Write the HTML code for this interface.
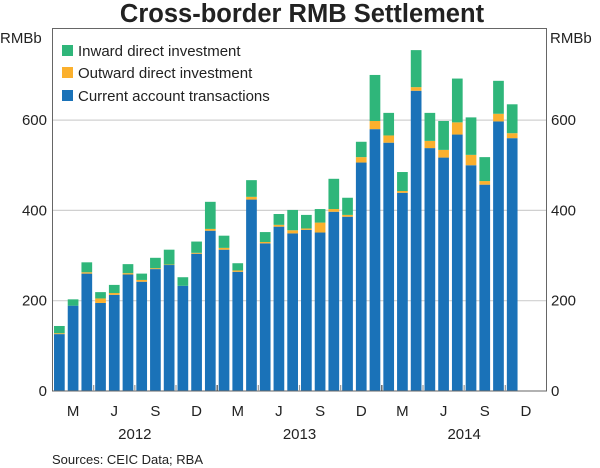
<!DOCTYPE html>
<html><head><meta charset="utf-8"><style>
body{margin:0;background:#fff;}
svg{display:block;font-family:"Liberation Sans",Arial,sans-serif;}
</style></head><body>
<svg id="chart" width="600" height="468" viewBox="0 0 600 468">
<text x="302" y="22" text-anchor="middle" font-size="25.5" font-weight="bold" fill="#222">Cross-border RMB Settlement</text>
<g id="grid"></g>
<g id="bars"></g>
<rect x="52.5" y="28.5" width="494" height="362.5" fill="none" stroke="#666" stroke-width="1"/>
<g id="axes"></g>
<text x="0" y="43" font-size="15" fill="#222">RMBb</text>
<text x="550" y="43" font-size="15" fill="#222">RMBb</text>
<g>
<rect x="62" y="45" width="11" height="11" fill="#2fb67a"/>
<text x="78" y="56" font-size="15" fill="#222">Inward direct investment</text>
<rect x="62" y="67" width="11" height="11" fill="#fbb02d"/>
<text x="78" y="78" font-size="15" fill="#222">Outward direct investment</text>
<rect x="62" y="90" width="11" height="11" fill="#1a72b8"/>
<text x="78" y="101" font-size="15" fill="#222">Current account transactions</text>
</g>
<text x="52" y="464" font-size="13" fill="#222">Sources:  CEIC Data; RBA</text>
</svg>
<script>
const months = ["Jan12","Feb12","Mar12","Apr12","May12","Jun12","Jul12","Aug12","Sep12","Oct12","Nov12","Dec12","Jan13","Feb13","Mar13","Apr13","May13","Jun13","Jul13","Aug13","Sep13","Oct13","Nov13","Dec13","Jan14","Feb14","Mar14","Apr14","May14","Jun14","Jul14","Aug14","Sep14","Oct14"];
const current = [126,189,260,195,213,258,242,270,279,233,304,355,313,264,424,327,364,349,357,351,397,386,506,580,550,439,665,538,517,568,500,457,597,560];
const outward = [2,0,3,10,4,3,4,2,1,0,2,4,4,3,6,3,4,7,3,22,6,4,12,18,16,4,8,16,17,27,23,8,17,11];
const inward = [16,14,22,14,18,20,14,23,33,19,25,60,27,16,37,22,24,45,30,30,67,38,34,102,50,42,82,62,64,97,83,53,73,64];
const yTicks = [0,200,400,600];
const qLabels = ["M","J","S","D","M","J","S","D","M","J","S","D"];
const years = ["2012","2013","2014"];
const NS="http://www.w3.org/2000/svg";
const X0=52.5, X1=546.5, Y0=391, SLOTS=36;
const pitch=(X1-X0)/SLOTS;
function yS(v){return Y0 - v*(90.3/200);}
function xS(i){return X0 + pitch*(i+0.5);}
function mk(t,a,p){const e=document.createElementNS(NS,t);for(const k in a)e.setAttribute(k,a[k]);p.appendChild(e);return e;}
const grid=document.getElementById('grid'), bars=document.getElementById('bars'), axes=document.getElementById('axes');
yTicks.forEach(v=>{
  if(v>0){const l=mk('line',{x1:X0,x2:X1,y1:yS(v),y2:yS(v),stroke:'#d0d0d0','stroke-width':1.2},grid);
  
  }
  const t1=mk('text',{x:47,y:yS(v)+5,'text-anchor':'end','font-size':15,fill:'#222'},axes);t1.textContent=v;
  
  
  const t2=mk('text',{x:551,y:yS(v)+5,'font-size':15,fill:'#222'},axes);t2.textContent=v;
  
  
});
const w=pitch*0.78;
months.forEach((m,i)=>{
  const x=xS(i)-w/2;
  const segs=[[current[i],'#1a72b8','current'],[outward[i],'#fbb02d','outward'],[inward[i],'#2fb67a','inward']];
  let base=0;
  segs.forEach(s=>{
    if(s[0]<=0)return;
    const r=mk('rect',{x:x,y:yS(base+s[0]),width:w,height:yS(base)-yS(base+s[0]),fill:s[1]},bars);
    
    
    base+=s[0];
  });
});
for(let q=1;q<12;q++){
  const x=X0+pitch*3*q;
  const l=mk('line',{x1:x,x2:x,y1:Y0,y2:Y0-6,stroke:(q%4==0?'#444':'#999'),'stroke-width':1.2},axes);
  
  
}
qLabels.forEach((s,q)=>{
  const t=mk('text',{x:X0+pitch*(3*q+1.5),y:416,'text-anchor':'middle','font-size':15,fill:'#222'},axes);t.textContent=s;
  
  
});
years.forEach((s,k)=>{
  const t=mk('text',{x:X0+pitch*(12*k+6),y:439,'text-anchor':'middle','font-size':15,fill:'#222'},axes);t.textContent=s;
  
  
});
</script>
</body></html>
